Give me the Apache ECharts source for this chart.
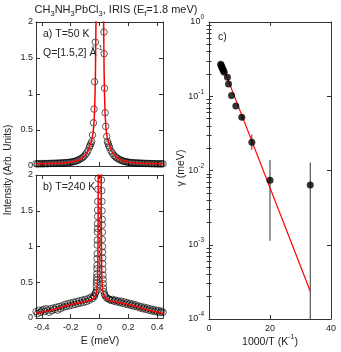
<!DOCTYPE html>
<html>
<head>
<meta charset="utf-8">
<script src="https://cdn.jsdelivr.net/npm/echarts@6/dist/echarts.min.js"></script>
<style>
html,body{margin:0;padding:0;background:#fff;}
#chart{width:341px;height:352px;}
</style>
</head>
<body>
<div id="chart"></div>
<script>
// ---- data ----
// a) T=50 K : measured points
var aCircE = [-0.44,-0.43,-0.42,-0.41,-0.40,-0.39,-0.38,-0.37,-0.36,-0.35,-0.34,-0.33,-0.32,-0.31,-0.30,-0.29,-0.28,-0.27,-0.26,-0.25,-0.24,-0.23,-0.22,-0.21,-0.20,-0.19,-0.18,-0.17,-0.16,-0.15,-0.14,-0.13,-0.12,-0.11,-0.10,-0.09,-0.08,-0.07,
  -0.066,-0.06,-0.054,-0.048,-0.042,-0.038,-0.034,-0.029,
  0.031,0.032,0.035,0.039,0.043,0.05,0.055,0.06,0.065,
  0.07,0.08,0.09,0.10,0.11,0.12,0.13,0.14,0.15,0.16,0.17,0.18,0.19,0.20,0.21,0.22,0.23,0.24,0.25,0.26,0.27,0.28,0.29,0.30,0.31,0.32,0.33,0.34,0.35,0.36,0.37,0.38,0.39,0.40,0.41,0.42,0.43,0.44];
var aCircI = [0.032,0.028,0.033,0.030,0.034,0.029,0.033,0.035,0.031,0.036,0.034,0.038,0.035,0.039,0.037,0.041,0.039,0.043,0.041,0.045,0.044,0.048,0.047,0.051,0.053,0.057,0.060,0.066,0.072,0.080,0.090,0.101,0.113,0.130,0.152,0.178,0.214,0.262,
  0.28,0.31,0.34,0.43,0.60,0.79,1.17,1.72,
  1.86,1.56,1.08,0.74,0.55,0.41,0.34,0.31,0.28,
  0.255,0.208,0.176,0.148,0.128,0.112,0.099,0.088,0.079,0.071,0.065,0.060,0.056,0.052,0.050,0.046,0.047,0.043,0.044,0.040,0.042,0.038,0.040,0.036,0.038,0.034,0.036,0.033,0.035,0.031,0.034,0.030,0.033,0.029,0.032,0.028,0.031,0.030];
// a) fitted curve
var aFitE = [-0.44,-0.40,-0.35,-0.30,-0.25,-0.20,-0.15,-0.12,-0.10,-0.08,-0.07,-0.06,-0.05,-0.045,-0.04,-0.035,-0.031,-0.028,-0.0245,-0.02,-0.012,0.002,0.016,0.024,0.0285,0.032,0.035,0.039,0.044,0.049,0.054,0.064,0.074,0.084,0.104,0.124,0.154,0.2,0.25,0.3,0.35,0.4,0.44];
var aFitI = [0.030,0.031,0.034,0.037,0.043,0.051,0.079,0.11,0.15,0.21,0.26,0.32,0.39,0.45,0.55,0.72,0.98,1.3,2.0,3.0,4.5,6.0,4.5,3.0,2.0,1.3,0.98,0.72,0.55,0.45,0.39,0.32,0.26,0.21,0.15,0.11,0.079,0.051,0.043,0.037,0.034,0.031,0.030];

// b) T=240 K : measured points
var bCircE = [-0.44,-0.43,-0.42,-0.41,-0.40,-0.39,-0.38,-0.37,-0.36,-0.35,-0.34,-0.33,-0.32,-0.31,-0.30,-0.29,-0.28,-0.27,-0.26,-0.25,-0.24,-0.23,-0.22,-0.21,-0.20,-0.19,-0.18,-0.17,-0.16,-0.15,-0.14,-0.13,-0.12,-0.11,-0.10,-0.09,-0.08,-0.07,-0.06,-0.05,-0.04,-0.035,-0.03,-0.025,-0.02,
  -0.022,-0.021,-0.02,-0.019,-0.018,-0.018,-0.017,-0.017,-0.016,-0.016,-0.015,-0.015,-0.014,-0.014,-0.013,-0.013,-0.012,-0.011,-0.01,
  0.014,0.016,0.017,0.018,0.019,0.019,0.02,0.02,0.021,0.021,0.022,0.022,0.023,0.024,0.025,0.026,0.028,0.03,
  0.035,0.04,0.05,0.06,0.07,0.08,0.09,0.10,0.11,0.12,0.13,0.14,0.15,0.16,0.17,0.18,0.19,0.20,0.21,0.22,0.23,0.24,0.25,0.26,0.27,0.28,0.29,0.30,0.31,0.32,0.33,0.34,0.35,0.36,0.37,0.38,0.39,0.40,0.41,0.42,0.43,0.44];
var bCircI = [0.09,0.06,0.11,0.08,0.10,0.12,0.09,0.13,0.11,0.08,0.13,0.10,0.14,0.12,0.15,0.11,0.16,0.13,0.17,0.15,0.19,0.16,0.20,0.17,0.21,0.18,0.22,0.19,0.23,0.20,0.24,0.21,0.25,0.22,0.26,0.23,0.27,0.25,0.29,0.27,0.31,0.30,0.34,0.36,0.39,
  0.44,0.49,0.53,0.57,0.62,0.69,0.74,0.83,0.9,1.02,1.09,1.2,1.25,1.32,1.42,1.51,1.63,1.8,1.95,
  1.93,1.78,1.63,1.5,1.38,1.3,1.2,1.1,1.0,0.92,0.84,0.76,0.68,0.6,0.54,0.48,0.42,0.37,
  0.33,0.31,0.28,0.27,0.26,0.245,0.26,0.235,0.25,0.225,0.24,0.215,0.235,0.205,0.225,0.195,0.215,0.185,0.205,0.175,0.195,0.165,0.185,0.155,0.17,0.14,0.16,0.13,0.15,0.12,0.14,0.11,0.13,0.1,0.12,0.09,0.11,0.085,0.105,0.075,0.095,0.08];
// b) fitted curve
var bFitE = [-0.44,-0.40,-0.36,-0.32,-0.28,-0.25,-0.20,-0.15,-0.10,-0.07,-0.05,-0.035,-0.025,-0.018,-0.013,-0.011,-0.0095,-0.0085,-0.005,0.0015,0.008,0.0115,0.0125,0.014,0.016,0.021,0.028,0.038,0.053,0.073,0.10,0.15,0.21,0.25,0.28,0.32,0.36,0.40,0.44];
var bFitI = [0.065,0.08,0.096,0.115,0.14,0.162,0.19,0.21,0.228,0.245,0.26,0.285,0.33,0.40,0.55,0.9,1.5,2.2,4,6,4,2.2,1.5,0.9,0.55,0.40,0.33,0.285,0.26,0.245,0.228,0.21,0.185,0.165,0.145,0.12,0.1,0.083,0.068];

// c) linewidth vs 1000/T
var cInvT   = [3.85,4.0,4.17,4.35,4.55,4.76,5.0,6.05,6.4,7.4,8.8,10.75,14.05,20.0,33.2];
var cGamma  = [0.27,0.26,0.25,0.24,0.23,0.22,0.21,0.18,0.146,0.102,0.074,0.052,0.0241,0.0074,0.0064];
var cErrLo  = [0.27,0.26,0.25,0.24,0.23,0.22,0.21,0.18,0.146,0.102,0.074,0.048,0.019,0.00113,0.0001];
var cErrHi  = [0.27,0.26,0.25,0.24,0.23,0.22,0.21,0.18,0.146,0.102,0.074,0.056,0.0305,0.0138,0.0128];
var cFitX   = [5.0,33.2];
var cFitY   = [0.225,0.000237];

// ticks
var eTicks = [-0.4,-0.2,0,0.2,0.4];
var intTicks = [0,0.5,1,1.5,2];
var invTTicks = [0,20,40];
var gammaMinor = [];
[0.0001,0.001,0.01,0.1].forEach(function(d){
  for(var k=2;k<=9;k++){ gammaMinor.push(d*k); }
});

var FONT = 'Liberation Sans, Arial, sans-serif';
var INK = '#222';
var FRAME = '#333';

function zip(xs, ys){
  return xs.map(function(x,i){ return [x, ys[i]]; });
}

// E axis (bottom or top) of panel a / b
function eAxis(grid, pos, labels){
  return {
    type:'value', gridIndex:grid, position:pos, min:-0.44, max:0.44,
    axisLine:{show:true, onZero:false, lineStyle:{color:FRAME, width:1}},
    axisTick:{show:true, inside:true, length:4, customValues:eTicks, lineStyle:{color:FRAME}},
    axisLabel:{show:labels, customValues:eTicks, margin:5, fontSize:9, color:INK, fontFamily:FONT},
    splitLine:{show:false}
  };
}
// intensity axis (left or right)
function iAxis(grid, pos, labels){
  return {
    type:'value', gridIndex:grid, position:pos, min:intTicks[0], max:intTicks[4], interval:0.5,
    axisLine:{show:true, onZero:false, lineStyle:{color:FRAME, width:1}},
    axisTick:{show:true, inside:true, length:4, lineStyle:{color:FRAME}},
    axisLabel:{show:labels, margin:3, fontSize:9, color:INK, fontFamily:FONT},
    splitLine:{show:false}
  };
}

var xAxes = [
  eAxis(0,'bottom',false), eAxis(0,'top',false),
  eAxis(1,'bottom',true),  eAxis(1,'top',false),
  {type:'value', gridIndex:2, position:'bottom', min:invTTicks[0], max:invTTicks[2], interval:20,
   axisLine:{show:true, onZero:false, lineStyle:{color:FRAME, width:1}},
   axisTick:{inside:true, length:4, lineStyle:{color:FRAME}},
   axisLabel:{margin:5, fontSize:9, color:INK, fontFamily:FONT}, splitLine:{show:false}},
  {type:'value', gridIndex:2, position:'top', min:invTTicks[0], max:invTTicks[2], interval:20,
   axisLine:{show:true, onZero:false, lineStyle:{color:FRAME, width:1}},
   axisTick:{inside:true, length:4, lineStyle:{color:FRAME}},
   axisLabel:{show:false}, splitLine:{show:false}}
];

function logAxis(pos, labels){
  return {
    type:'log', logBase:10, gridIndex:2, position:pos, min:0.0001, max:1,
    axisLine:{show:true, onZero:false, lineStyle:{color:FRAME, width:1}},
    axisTick:{inside:true, length:4, lineStyle:{color:FRAME}},
    axisLabel:{show:labels, margin:5, color:INK, fontFamily:FONT,
      formatter:function(v){ return '{b|10}{s|' + Math.round(Math.log10(v)) + '}'; },
      rich:{ b:{fontSize:9, fontFamily:FONT, color:INK, lineHeight:16, verticalAlign:'middle'},
             s:{fontSize:6.5, fontFamily:FONT, color:INK, lineHeight:8, verticalAlign:'top'} }},
    splitLine:{show:false}
  };
}
// minor ticks 2..9 per decade
function minorAxis(pos){
  return {
    type:'log', logBase:10, gridIndex:2, position:pos, min:0.0001, max:1,
    axisLine:{show:false},
    axisTick:{inside:true, length:2.5, customValues:gammaMinor, lineStyle:{color:FRAME}},
    axisLabel:{show:false}, splitLine:{show:false}
  };
}

var yAxes = [
  iAxis(0,'left',true), iAxis(0,'right',false),
  iAxis(1,'left',true), iAxis(1,'right',false),
  logAxis('left',true), logAxis('right',false),
  minorAxis('left'), minorAxis('right')
];

var openCircle = {color:'rgba(0,0,0,0)', borderColor:'#000', borderWidth:0.8};

var series = [
  {type:'scatter', xAxisIndex:0, yAxisIndex:0, data:zip(aCircE,aCircI), symbol:'circle', symbolSize:6.5, itemStyle:openCircle, z:2},
  {type:'line', xAxisIndex:0, yAxisIndex:0, data:zip(aFitE,aFitI), showSymbol:false, lineStyle:{color:'#ff0000', width:1.5}, clip:true, z:3},
  {type:'scatter', xAxisIndex:2, yAxisIndex:2, data:zip(bCircE,bCircI), symbol:'circle', symbolSize:6.5, itemStyle:openCircle, z:2},
  {type:'line', xAxisIndex:2, yAxisIndex:2, data:zip(bFitE,bFitI), showSymbol:false, lineStyle:{color:'#ff0000', width:1.5}, clip:true, z:3},
  // error bars in c
  {type:'custom', xAxisIndex:4, yAxisIndex:4, clip:true, z:1,
   data:cInvT.map(function(x,i){ return [x, cErrLo[i], cErrHi[i]]; }),
   encode:{x:0, y:[1,2]},
   renderItem:function(params, api){
     var p1 = api.coord([api.value(0), api.value(1)]);
     var p2 = api.coord([api.value(0), api.value(2)]);
     return {type:'line', shape:{x1:p1[0], y1:p1[1], x2:p2[0], y2:p2[1]}, style:{stroke:'#333', lineWidth:1}};
   }},
  {type:'line', xAxisIndex:4, yAxisIndex:4, data:zip(cFitX,cFitY), showSymbol:false, lineStyle:{color:'#ff0000', width:1.2}, z:2},
  {type:'scatter', xAxisIndex:4, yAxisIndex:4, data:zip(cInvT,cGamma), symbol:'circle', symbolSize:7, itemStyle:{color:'#000'}, z:3}
];

// free texts
function txt(x, y, text, size, opt){
  opt = opt || {};
  return {
    type:'text', x:x, y:y, rotation:opt.rot || 0, z:10,
    style:{text:text, fontSize:size, fontFamily:FONT, fill:INK,
      align:opt.align || 'left', textAlign:opt.align || 'left',
      verticalAlign:'middle', textVerticalAlign:'middle', rich:opt.rich}
  };
}
var subRich = {
  n:{fontSize:11, fontFamily:FONT, color:INK, lineHeight:16, verticalAlign:'middle'},
  s:{fontSize:7.5, fontFamily:FONT, color:INK, lineHeight:8, verticalAlign:'bottom'}
};
var supRich = {
  n:{fontSize:10.5, fontFamily:FONT, color:INK, lineHeight:16, verticalAlign:'middle'},
  s:{fontSize:7, fontFamily:FONT, color:INK, lineHeight:8, verticalAlign:'top'}
};

var graphics = [
  txt(116, 10, '{n|CH}{s|3}{n|NH}{s|3}{n|PbCl}{s|3}{n|, IRIS (E}{s|f}{n|=1.8 meV)}', 11, {align:'center', rich:subRich}),
  txt(43, 34, 'a) T=50 K', 10.5),
  txt(43, 53, '{n|Q=[1.5,2] Å}{s|-1}', 10.5, {rich:supRich}),
  txt(43, 187, 'b) T=240 K', 10.5),
  txt(218, 37, 'c)', 10.5),
  txt(8, 170, 'Intensity (Arb. Units)', 10, {align:'center', rot:Math.PI/2}),
  txt(100, 341, 'E (meV)', 10.5, {align:'center'}),
  txt(181, 168, 'γ (meV)', 10.5, {align:'center', rot:Math.PI/2}),
  txt(270, 342, '{n|1000/T (K}{s|-1}{n|)}', 10.5, {align:'center', rich:supRich})
];

var chart = echarts.init(document.getElementById('chart'));
chart.setOption({
  animation:false,
  backgroundColor:'#fff',
  grid:[
    {left:36, top:22, width:127, height:144, outerBoundsMode:'none'},
    {left:36, top:175, width:127, height:143, outerBoundsMode:'none'},
    {left:209, top:22, width:122, height:297, outerBoundsMode:'none'}
  ],
  xAxis:xAxes,
  yAxis:yAxes,
  series:series,
  graphic:graphics
});
</script>
</body>
</html>
